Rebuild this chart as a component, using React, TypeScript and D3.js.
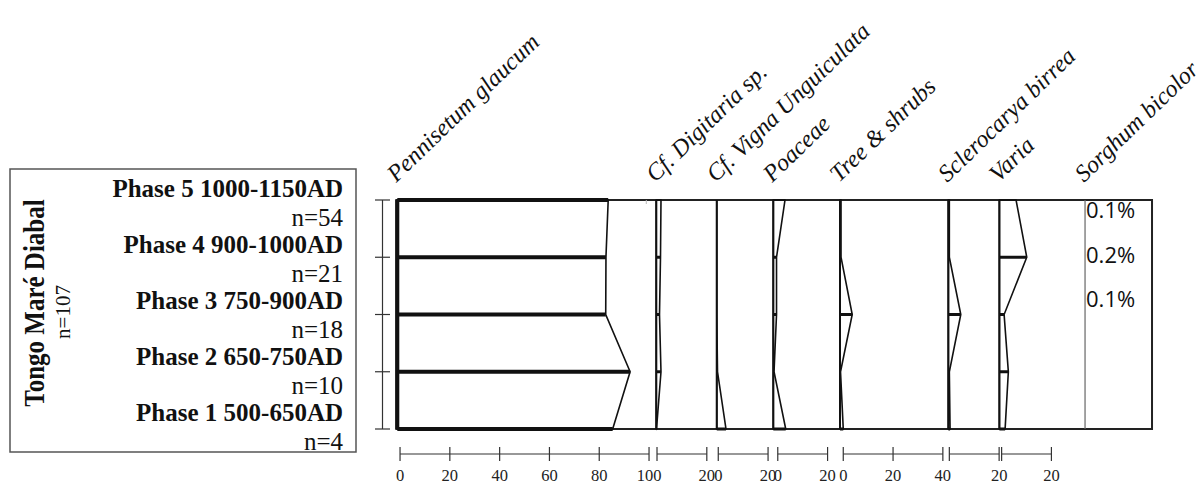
import React from "react";
import * as d3 from "d3";

// site / phase labels, top row first
const phases = [
  "Phase 5 1000-1150AD",
  "Phase 4 900-1000AD",
  "Phase 3 750-900AD",
  "Phase 2 650-750AD",
  "Phase 1 500-650AD",
];
const counts = ["n=54", "n=21", "n=18", "n=10", "n=4"];

const taxa = [
  "Pennisetum glaucum",
  "Cf. Digitaria sp.",
  "Cf. Vigna Unguiculata",
  "Poaceae",
  "Tree & shrubs",
  "Sclerocarya birrea",
  "Varia",
  "Sorghum bicolor",
];

// percentages per phase (Phase 5 -> Phase 1)
const pennisetum = [84.7, 83.8, 83.7, 93.5, 86.5];
const digitaria = [1.9, 1.7, 1.3, 1.9, 0.1];
const vigna = [0, 0, 0, 0.3, 3.7];
const poaceae = [4.7, 1.3, 1.3, 0.3, 5.0];
const trees = [0.4, 0.4, 4.9, 0.2, 1.3];
const sclerocarya = [0.4, 0.4, 5.0, 0.4, 0.7];
const varia = [6.7, 11.0, 1.9, 3.6, 2.3];
const sorghumLabels = ["0.1%", "0.2%", "0.1%"];

const series = [pennisetum, digitaria, vigna, poaceae, trees, sclerocarya, varia];
const axisTicks = [
  [0, 20, 40, 60, 80, 100],
  [0, 20],
  [0, 20],
  [0, 20],
  [0, 20, 40],
  [0, 20],
  [0, 20],
];
const zeroLabelled = [true, false, true, true, true, false, false];

// column layout, in percent units along the shared scale
const colStart = [0, 104, 128.3, 151, 177.8, 221.3, 241.8, 276.2];
const axisStart = [1.1, 104.3, 128.9, 152.8, 179.1, 221.7, 242.7];
const frameEnd = 303.1;

const serif = "'Liberation Serif', 'Times New Roman', serif";

export default function App() {
  const width = 1198;
  const height = 484;

  const x = d3.scaleLinear().domain([0, 100]).range([397.3, 646.3]);
  const y = d3.scaleLinear().domain([0, phases.length - 1]).range([200, 429]);
  const yLabel = d3.scaleLinear().domain([0, phases.length - 1]).range([197, 421]);
  const ySorghum = d3
    .scalePoint<number>()
    .domain(sorghumLabels.map((_, i) => i))
    .range([218, 307]);

  const line = d3
    .line<[number, number]>()
    .x((d) => d[0])
    .y((d) => d[1]);

  const top = y(0);
  const bottom = y(phases.length - 1);
  const axisY = 454;

  return (
    <svg width={width} height={height} style={{ position: "absolute", left: 0, top: 0 }}>
      <rect width={width} height={height} fill="#fff" />

      {/* site box */}
      <rect x={10} y={169} width={346} height={283} fill="none" stroke="#555" strokeWidth={1.5} />
      <text
        transform="translate(44,303) scale(1.15,1) rotate(-90)"
        textAnchor="middle"
        fontFamily={serif}
        fontWeight="bold"
        fontSize={25}
        fill="#111"
      >
        Tongo Maré Diabal
      </text>
      <text
        transform="translate(70,312) rotate(-90)"
        textAnchor="middle"
        fontFamily={serif}
        fontSize={21}
        fill="#111"
      >
        n=107
      </text>
      {phases.map((p, i) => (
        <g key={p}>
          <text
            x={343}
            y={yLabel(i)}
            textAnchor="end"
            fontFamily={serif}
            fontWeight="bold"
            fontSize={25}
            fill="#111"
          >
            {p}
          </text>
          <text x={343} y={yLabel(i) + 29} textAnchor="end" fontFamily={serif} fontSize={25} fill="#111">
            {counts[i]}
          </text>
        </g>
      ))}

      {/* phase axis */}
      <g stroke="#333" strokeWidth={1.2}>
        <line x1={382.5} x2={382.5} y1={top} y2={bottom} />
        {phases.map((p, i) => (
          <line key={p} x1={375} x2={390} y1={y(i)} y2={y(i)} />
        ))}
      </g>

      {/* frame */}
      <rect
        x={x(0) - 1}
        y={top}
        width={x(frameEnd) - x(0) + 1}
        height={bottom - top}
        fill="#fff"
        stroke="#222"
        strokeWidth={2}
      />
      {[20, 40, 60, 80, 100].map((t) => (
        <line key={t} x1={x(t)} x2={x(t)} y1={top} y2={top + 4} stroke="#bbb" strokeWidth={1} />
      ))}

      {/* taxa columns */}
      {series.map((vals, c) => {
        const s = colStart[c];
        const pts: [number, number][] = [
          [x(s), top],
          ...vals.map((v, i) => [x(s + v), y(i)] as [number, number]),
          [x(s), bottom],
        ];
        return (
          <g key={taxa[c]}>
            <path d={line(pts) + "Z"} fill="#fff" stroke="#111" strokeWidth={1.6} strokeLinejoin="miter" />
            {vals.map((v, i) => (
              <line
                key={i}
                x1={x(s)}
                x2={x(s + v)}
                y1={y(i)}
                y2={y(i)}
                stroke="#111"
                strokeWidth={c === 0 ? 4 : i === 0 ? 2 : 3}
              />
            ))}
            <line x1={x(s)} x2={x(s)} y1={top} y2={bottom} stroke="#111" strokeWidth={c === 0 ? 4 : 2} />
          </g>
        );
      })}

      {/* sorghum column */}
      <line
        x1={x(colStart[7])}
        x2={x(colStart[7])}
        y1={top}
        y2={bottom}
        stroke="#666"
        strokeWidth={1.2}
      />
      {sorghumLabels.map((l, i) => (
        <text
          key={i}
          x={x(colStart[7]) + 1}
          y={ySorghum(i)}
          fontFamily="'Open Sans', sans-serif"
          fontSize={22}
          fill="#111"
        >
          {l}
        </text>
      ))}

      {/* rotated taxa names */}
      {taxa.map((t, c) => (
        <text
          key={t}
          transform={`translate(${x(colStart[c]) - 1},183) rotate(-44)`}
          fontFamily={serif}
          fontStyle="italic"
          fontSize={24}
          fill="#111"
        >
          {t}
        </text>
      ))}

      {/* percentage scales */}
      {axisTicks.map((ticks, c) => {
        const a = axisStart[c];
        const last = ticks[ticks.length - 1];
        return (
          <g key={c}>
            <line x1={x(a)} x2={x(a + last)} y1={axisY} y2={axisY} stroke="#333" strokeWidth={1.2} />
            {ticks.map((t) => (
              <g key={t}>
                <line x1={x(a + t)} x2={x(a + t)} y1={axisY - 7} y2={axisY + 7} stroke="#333" strokeWidth={1.2} />
                {(t !== 0 || zeroLabelled[c]) && (
                  <text
                    x={x(a + t)}
                    y={481}
                    textAnchor="middle"
                    fontFamily={serif}
                    fontSize={16.5}
                    fill="#222"
                  >
                    {t}
                  </text>
                )}
              </g>
            ))}
          </g>
        );
      })}
    </svg>
  );
}
